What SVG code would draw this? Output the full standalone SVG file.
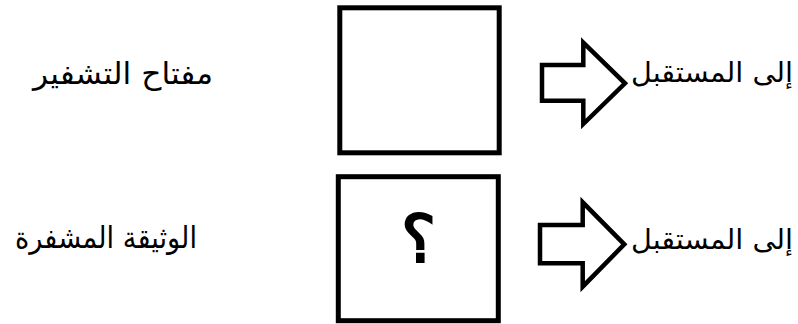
<svg xmlns="http://www.w3.org/2000/svg" width="798" height="324" viewBox="0 0 798 324">
<style>
.box{fill:#fff;stroke:#000;stroke-width:5}
.arr{fill:#fff;stroke:#000;stroke-width:4.5;stroke-linejoin:miter}
.lbl{font-family:"DejaVu Sans","Noto Sans",sans-serif;font-size:30px;fill:#000}
.rl{font-size:28px}
.q{font-family:"DejaVu Serif","Liberation Serif",serif;font-weight:bold;font-size:66px;fill:#000}
</style>
<rect width="798" height="324" fill="#fff"/>
<g id="key-box"><rect class="box" x="339.8" y="7.8" width="159.4" height="145"/></g>
<g id="doc-box"><rect class="box" x="338.3" y="176.7" width="160" height="144"/>
<text class="q" x="418" y="262" text-anchor="middle">؟</text></g>
<g id="key-label"><text class="lbl" x="33" y="84" textLength="180" lengthAdjust="spacingAndGlyphs">مفتاح التشفير</text></g>
<g id="doc-label"><text class="lbl" x="15" y="248" textLength="182" lengthAdjust="spacingAndGlyphs">الوثيقة المشفرة</text></g>
<g id="connectors">
<path class="arr" d="M542,65 H583.3 V42.7 L625,83.3 L583.3,124 V100.7 H542 Z"/>
<path class="arr" d="M540,225 H582.7 V202.3 L624.3,244.3 L582.7,286.7 V263.3 H540 Z"/>
</g>
<g id="recv-label-1"><text class="lbl rl" x="631" y="82" textLength="162" lengthAdjust="spacingAndGlyphs">إلى المستقبل</text></g>
<g id="recv-label-2"><text class="lbl rl" x="631" y="249" textLength="162" lengthAdjust="spacingAndGlyphs">إلى المستقبل</text></g>
</svg>
